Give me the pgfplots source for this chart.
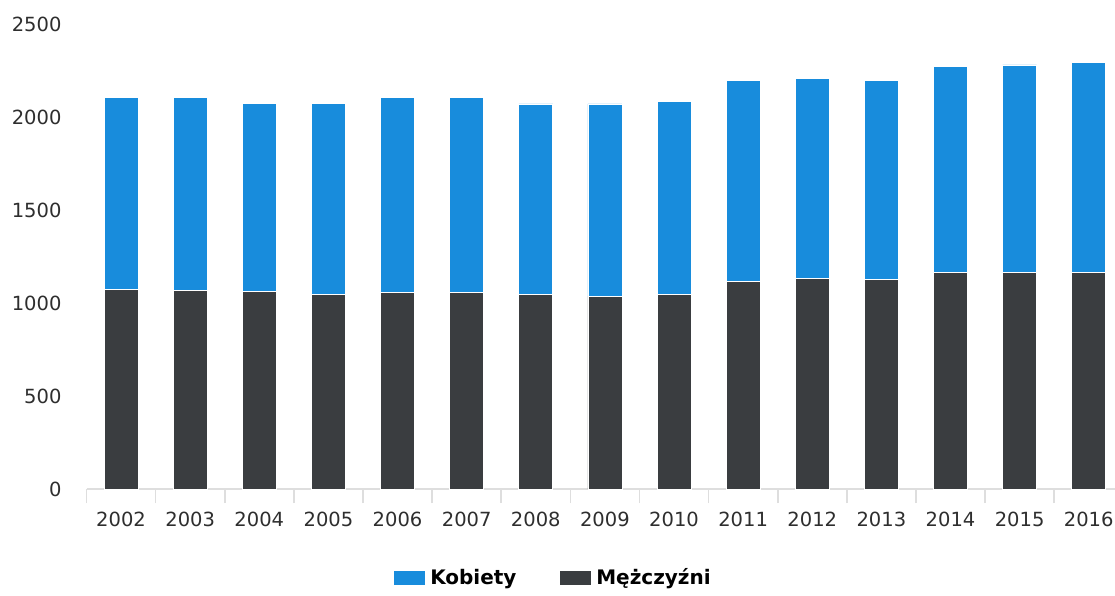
\documentclass[border=0pt]{standalone}
\usepackage{fontspec}
\setmainfont{DejaVu Sans}
\usepackage{pgfplots}
\pgfplotsset{compat=1.18}
\definecolor{kob}{RGB}{24,140,220}
\definecolor{mez}{RGB}{58,61,64}
\definecolor{axgray}{RGB}{222,222,222}
\begin{document}
\begin{tikzpicture}
\begin{axis}[
  name=ax,
  scale only axis, width=514.25pt, height=232.5pt,
  ybar stacked, bar width=17pt,
  xmin=-0.5, xmax=14.38, ymin=0, ymax=2500,
  xtick={0,...,14},
  xticklabels={2002,2003,2004,2005,2006,2007,2008,2009,2010,2011,2012,2013,2014,2015,2016},
  ytick={0,500,1000,1500,2000,2500},
  minor xtick={-0.5,0.5,1.5,2.5,3.5,4.5,5.5,6.5,7.5,8.5,9.5,10.5,11.5,12.5,13.5},
  axis x line*=bottom, axis y line*=left,
  y axis line style={draw=none},
  x axis line style={draw=axgray, line width=0.8pt},
  ytick style={draw=none},
  major x tick style={draw=none},
  minor x tick style={draw=axgray, line width=0.8pt},
  minor tick length=7pt, major tick length=0pt,
  tick align=outside,
  ticklabel style={font=\fontsize{9.75}{11}\selectfont, text=black!82},
  /pgf/number format/assume math mode=true,
  /pgf/number format/1000 sep={},
  yticklabel style={xshift=-9pt},
  xticklabel style={yshift=-8pt},
  legend style={at={(0.4546,0)}, anchor=center, yshift=-44.5pt, draw=none,
    legend columns=2, font=\bfseries\fontsize{10}{11}\selectfont,
    /tikz/every even column/.append style={column sep=19.5pt}},
  legend image code/.code={\fill[#1] (0pt,-3.75pt) rectangle (16pt,3.75pt);},
  reverse legend,
]
\addplot[fill=mez, draw=white, line width=0.4pt] coordinates {
(0,1071) (1,1069) (2,1060) (3,1048) (4,1055) (5,1055) (6,1048) (7,1037)
(8,1047) (9,1117) (10,1131) (11,1129) (12,1163) (13,1162) (14,1166)};
\addlegendentry{Mężczyźni}
\addplot[fill=kob, draw=white, line width=0.4pt] coordinates {
(0,1033) (1,1035) (2,1014) (3,1023) (4,1048) (5,1050) (6,1022) (7,1033)
(8,1036) (9,1080) (10,1078) (11,1069) (12,1109) (13,1118) (14,1125)};
\addlegendentry{Kobiety}
\end{axis}
\pgfresetboundingbox
\path[use as bounding box] ([xshift=-43.25pt,yshift=-53pt]ax.south west) rectangle ([yshift=12pt]ax.north east);
\end{tikzpicture}
\end{document}
